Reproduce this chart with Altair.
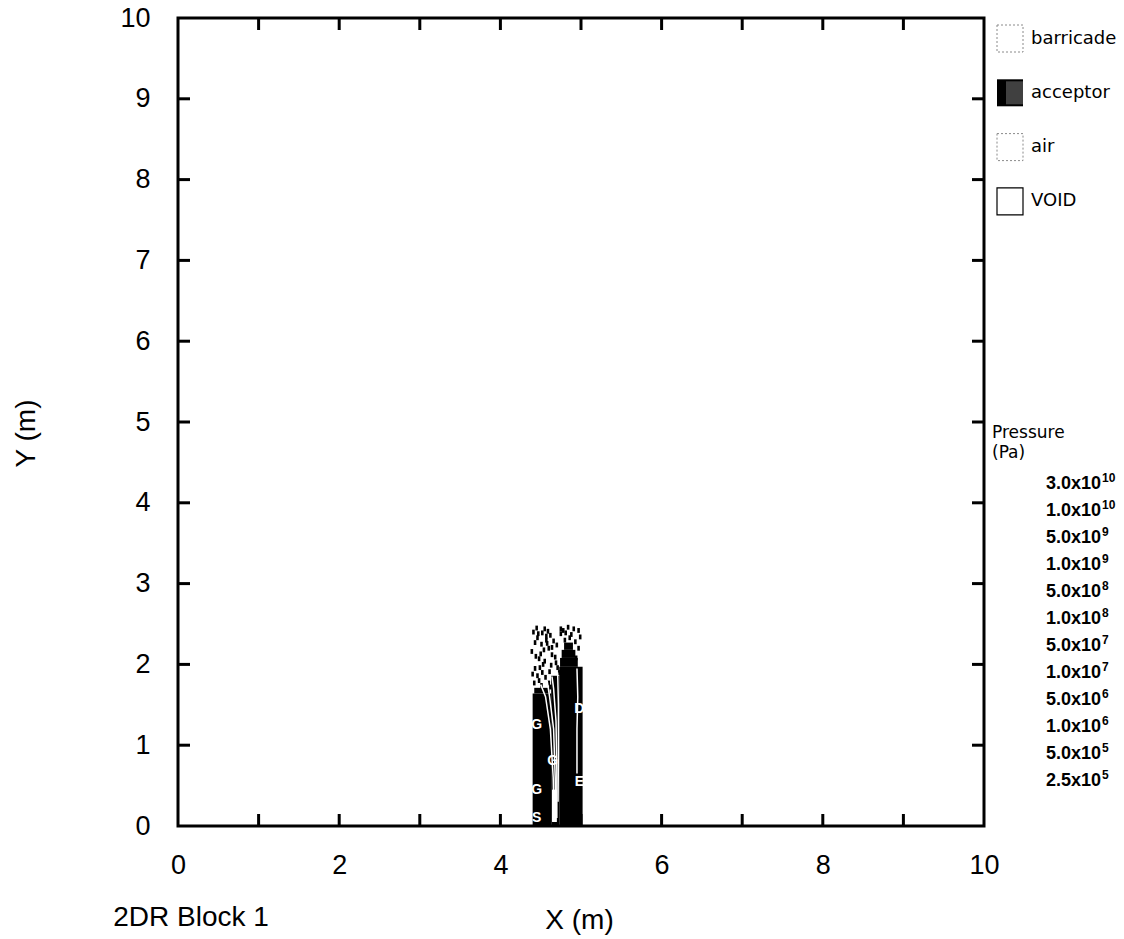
import altair as alt
import pandas as pd

# ---- plot geometry (pixels) ----
W, H = 806, 808
FONT = "Liberation Sans"

# ---- acceptor material blocks (metres) ----
blk_x0 = [4.40, 4.42, 4.63, 4.73, 4.74, 4.76, 4.79]
blk_x1 = [4.63, 4.61, 4.73, 5.02, 4.96, 4.93, 4.90]
blk_y0 = [0.00, 1.64, 0.00, 0.00, 1.97, 2.08, 2.18]
blk_y1 = [1.64, 1.71, 1.86, 1.97, 2.08, 2.18, 2.27]

# ---- fragmented acceptor cells above the columns (cell centres, metres) ----
frag_x = [4.45, 4.55, 4.59, 4.62, 4.78, 4.81, 4.88, 4.97, 4.43, 4.51, 4.54,
          4.60, 4.64, 4.70, 4.80, 4.93, 4.97, 4.39, 4.48, 4.55, 4.64, 4.43,
          4.52, 4.61, 4.71, 4.73, 4.97, 4.42, 4.48, 4.51, 4.60, 4.62, 4.66,
          4.99, 4.46, 4.57, 4.68, 4.86, 4.41, 4.47, 4.50, 4.57, 4.66, 4.75,
          4.84, 4.91, 4.44, 4.53, 4.58, 4.69, 4.46, 4.56, 4.63, 4.94, 4.52,
          4.40, 4.49, 4.67, 4.99, 4.75]
frag_y = [2.45, 2.44, 2.41, 2.36, 2.42, 2.39, 2.37, 2.42, 2.27, 2.25, 2.18,
          2.20, 2.21, 2.24, 2.30, 2.28, 2.20, 2.16, 2.07, 2.04, 2.12, 1.95,
          1.90, 1.91, 1.96, 1.90, 1.90, 1.77, 1.80, 1.74, 1.77, 1.72, 1.74,
          1.72, 2.33, 2.30, 2.09, 2.33, 2.40, 2.38, 2.13, 2.35, 2.29, 2.44,
          2.46, 2.44, 2.10, 2.00, 2.26, 2.02, 1.86, 1.84, 1.99, 2.08, 2.39,
          1.88, 1.96, 1.82, 2.34, 2.38]

# ---- pressure contour lines inside the acceptor (metres) ----
cont_id = [1] * 5 + [2] * 5 + [3] * 5 + [4] * 4 + [5] * 4
cont_x = [4.665, 4.655, 4.62, 4.56, 4.50,
          4.685, 4.68, 4.66, 4.61, 4.58,
          4.700, 4.70, 4.69, 4.66, 4.64,
          4.715, 4.72, 4.72, 4.71,
          4.950, 4.95, 4.96, 4.95]
cont_y = [0.05, 0.60, 1.20, 1.60, 1.75,
          0.05, 0.60, 1.20, 1.60, 1.80,
          0.10, 0.70, 1.30, 1.70, 1.85,
          0.30, 0.90, 1.50, 1.90,
          0.65, 1.20, 1.60, 1.95]

# ---- contour level letters ----
lab_txt = ["G", "G", "S", "G", "E", "D"]
lab_x = [4.45, 4.45, 4.45, 4.65, 4.98, 4.98]
lab_y = [1.25, 0.45, 0.10, 0.80, 0.54, 1.45]

# ---- axes ----
tick_vals = [1, 2, 3, 4, 5, 6, 7, 8, 9]
x_labels = [0, 2, 4, 6, 8, 10]
y_labels = [0, 1, 2, 3, 4, 5, 6, 7, 8, 9, 10]

# ---- legends ----
materials = ["barricade", "acceptor", "air", "VOID"]
p_mant = ["3.0", "1.0", "5.0", "1.0", "5.0", "1.0", "5.0", "1.0", "5.0",
          "1.0", "5.0", "2.5"]
p_exp = ["10", "10", "9", "9", "8", "8", "7", "7", "6", "6", "5", "5"]

xs = alt.Scale(domain=[0, 10], nice=False, zero=False)
ys = alt.Scale(domain=[0, 10], nice=False, zero=False)
x_ax = alt.Axis(values=x_labels, ticks=False, domain=False, grid=False,
                labelFlush=False, labelFontSize=27, labelPadding=26,
                labelFont=FONT, labelColor="black", title="X (m)",
                titleFont=FONT, titleFontSize=28, titleFontWeight="normal",
                titleColor="black", titleX=401, titleY=94,
                titleAlign="center", titleBaseline="middle")
y_ax = alt.Axis(values=y_labels, ticks=False, domain=False, grid=False,
                labelFlush=False, labelFontSize=27, labelPadding=28,
                labelFont=FONT, labelColor="black", title="Y (m)",
                titleFont=FONT, titleFontSize=28, titleFontWeight="normal",
                titleColor="black", titleAngle=270, titleX=-152, titleY=415,
                titleAlign="center", titleBaseline="middle")

one = pd.DataFrame({"a": [0]})

blocks = pd.DataFrame({"x0": blk_x0, "x1": blk_x1, "y0": blk_y0, "y1": blk_y1})
base_blocks = alt.Chart(blocks).mark_rect(color="black").encode(
    x=alt.X("x0:Q", scale=xs, axis=x_ax), x2="x1:Q",
    y=alt.Y("y0:Q", scale=ys, axis=y_ax), y2="y1:Q")

frags = pd.DataFrame({"x": frag_x, "y": frag_y})
frag_layer = alt.Chart(frags).transform_calculate(
    xa="datum.x - 0.016", xb="datum.x + 0.016",
    ya="datum.y - 0.03", yb="datum.y + 0.03",
).mark_rect(color="black").encode(
    x=alt.X("xa:Q", scale=xs, axis=x_ax), x2="xb:Q",
    y=alt.Y("ya:Q", scale=ys, axis=y_ax), y2="yb:Q")

strip = pd.DataFrame({"x0": [4.64], "x1": [4.70], "y0": [0.05], "y1": [0.45]})
strip_layer = alt.Chart(strip).mark_rect(color="white").encode(
    x=alt.X("x0:Q", scale=xs, axis=x_ax), x2="x1:Q",
    y=alt.Y("y0:Q", scale=ys, axis=y_ax), y2="y1:Q")

conts = pd.DataFrame({"c": cont_id, "x": cont_x, "y": cont_y})
conts["k"] = conts.groupby("c").cumcount()
cont_layer = alt.Chart(conts).mark_line(color="white", strokeWidth=1.5).encode(
    x=alt.X("x:Q", scale=xs, axis=x_ax), y=alt.Y("y:Q", scale=ys, axis=y_ax),
    detail="c:N", order="k:Q")

labs = pd.DataFrame({"t": lab_txt, "x": lab_x, "y": lab_y})
lab_layer = alt.Chart(labs).mark_text(color="white", fontSize=14,
                                      fontWeight="bold", font=FONT).encode(
    x=alt.X("x:Q", scale=xs, axis=x_ax), y=alt.Y("y:Q", scale=ys, axis=y_ax),
    text="t:N")

ticks = pd.DataFrame({"t": tick_vals})
tk = dict(color="black", strokeWidth=3)
tick_bottom = alt.Chart(ticks).mark_rule(**tk).encode(
    x=alt.X("t:Q", scale=xs, axis=x_ax), y=alt.value(H), y2=alt.value(H - 12))
tick_top = alt.Chart(ticks).mark_rule(**tk).encode(
    x=alt.X("t:Q", scale=xs, axis=x_ax), y=alt.value(0), y2=alt.value(12))
tick_left = alt.Chart(ticks).mark_rule(**tk).encode(
    y=alt.Y("t:Q", scale=ys, axis=y_ax), x=alt.value(0), x2=alt.value(12))
tick_right = alt.Chart(ticks).mark_rule(**tk).encode(
    y=alt.Y("t:Q", scale=ys, axis=y_ax), x=alt.value(W), x2=alt.value(W - 12))

layers = [base_blocks, frag_layer, strip_layer, cont_layer, lab_layer,
          tick_bottom, tick_top, tick_left, tick_right]

# material legend: swatches and names
sw_x, sw_w, sw_h, row0, step = W + 13, 26, 27, 7, 54.3
for i, name in enumerate(materials):
    top = row0 + i * step
    if name == "acceptor":
        sw = alt.Chart(one).mark_rect(fill="black").encode(
            x=alt.value(sw_x), x2=alt.value(sw_x + sw_w),
            y=alt.value(top), y2=alt.value(top + sw_h))
        speck = alt.Chart(one).mark_rect(fill="#6a6a6a", opacity=0.6).encode(
            x=alt.value(sw_x + 9), x2=alt.value(sw_x + sw_w),
            y=alt.value(top + 2), y2=alt.value(top + sw_h - 2))
        layers += [sw, speck]
    elif name == "VOID":
        layers.append(alt.Chart(one).mark_rect(
            fill="white", stroke="black", strokeWidth=1.2).encode(
            x=alt.value(sw_x), x2=alt.value(sw_x + sw_w),
            y=alt.value(top), y2=alt.value(top + sw_h)))
    else:
        layers.append(alt.Chart(one).mark_rect(
            fill="white", stroke="#8a8a8a", strokeWidth=1,
            strokeDash=[2, 2]).encode(
            x=alt.value(sw_x), x2=alt.value(sw_x + sw_w),
            y=alt.value(top), y2=alt.value(top + sw_h)))
    layers.append(alt.Chart(one).mark_text(
        text=name, align="left", baseline="middle", font="DejaVu Sans",
        fontSize=18, color="black").encode(
        x=alt.value(sw_x + sw_w + 8), y=alt.value(top + sw_h / 2)))

# pressure legend
layers.append(alt.Chart(one).mark_text(
    text="Pressure", align="left", baseline="middle", font="DejaVu Sans",
    fontSize=17, color="black").encode(x=alt.value(W + 8), y=alt.value(415)))
layers.append(alt.Chart(one).mark_text(
    text="(Pa)", align="left", baseline="middle", font="DejaVu Sans",
    fontSize=17, color="black").encode(x=alt.value(W + 8), y=alt.value(435)))
exp_x = W + 117
for i, (m, e) in enumerate(zip(p_mant, p_exp)):
    yy = 466 + i * 27
    layers.append(alt.Chart(one).mark_text(
        text=m + "x10", align="right", baseline="middle", font=FONT,
        fontSize=18, fontWeight="bold", color="black").encode(
        x=alt.value(exp_x), y=alt.value(yy)))
    layers.append(alt.Chart(one).mark_text(
        text=e, align="left", baseline="middle", font=FONT,
        fontSize=12, fontWeight="bold", color="black").encode(
        x=alt.value(exp_x + 1), y=alt.value(yy - 6)))

# block caption
layers.append(alt.Chart(one).mark_text(
    text="2DR Block 1", align="center", baseline="middle", font=FONT,
    fontSize=28, color="black").encode(x=alt.value(13), y=alt.value(900)))

chart = alt.layer(*layers).properties(
    width=W, height=H,
    autosize=alt.AutoSizeParams(type="none"),
    padding={"left": 178, "top": 18, "right": 140, "bottom": 113},
    background="white",
).configure_view(stroke="black", strokeWidth=3)

chart.save("out.html", embed_options={"renderer": "svg", "actions": False})
